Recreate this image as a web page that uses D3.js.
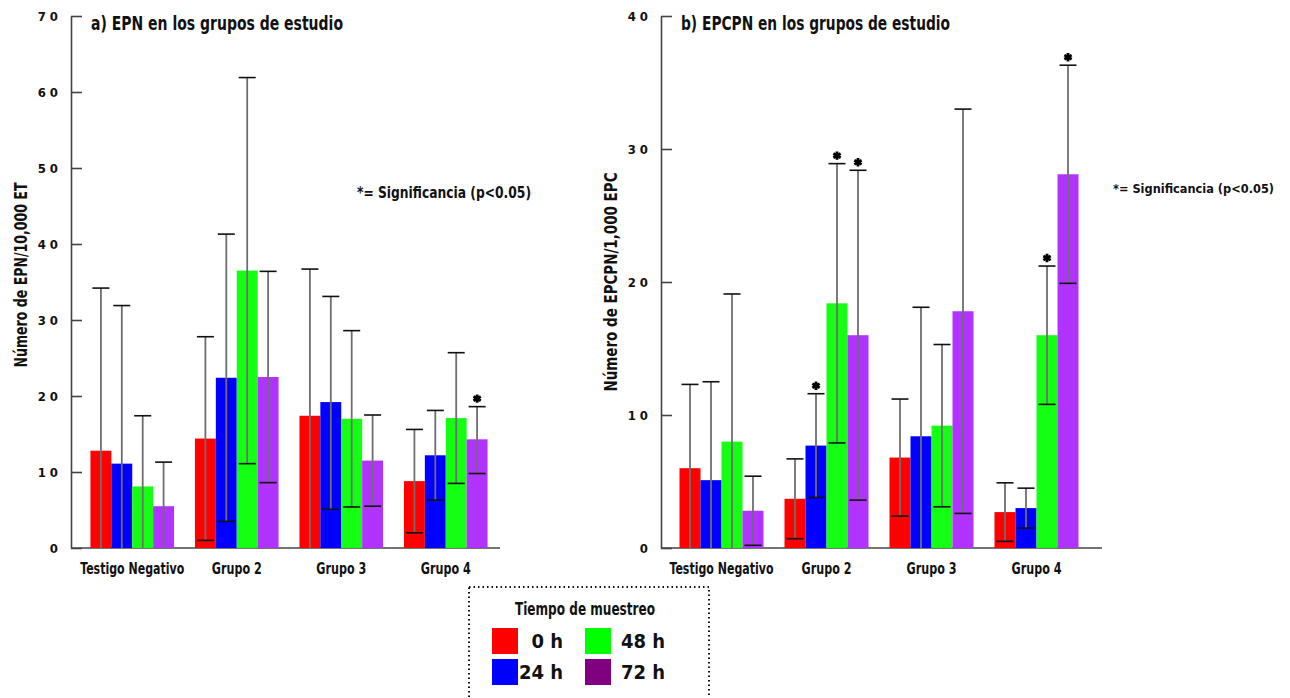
<!DOCTYPE html>
<html>
<head>
<meta charset="utf-8">
<script src="https://cdn.jsdelivr.net/npm/d3@7"></script>
<style>
  body { margin: 0; background: #fff; }
  text { font-family: "DejaVu Sans Condensed", "Liberation Sans Narrow", sans-serif; font-stretch: condensed; font-weight: bold; fill: #111; }
</style>
</head>
<body>
<div id="chart"></div>
<script>
// categories and series
var groups = ["Testigo Negativo", "Grupo 2", "Grupo 3", "Grupo 4"];
var series = ["0 h", "24 h", "48 h", "72 h"];
var barColors = ["#ff0000", "#0000ff", "#14ff14", "#b033ff"];
var legendColors = ["#ff0000", "#0000ff", "#00ff00", "#800080"];

// a) EPN / 10,000 ET  (rows = groups, cols = series)
var epnMean  = [[12.8, 11.1, 8.1, 5.5], [14.4, 22.4, 36.5, 22.5], [17.4, 19.2, 17.0, 11.5], [8.8, 12.2, 17.1, 14.3]];
var epnUpper = [[34.2, 31.9, 17.4, 11.3], [27.8, 41.3, 61.9, 36.4], [36.7, 33.1, 28.6, 17.5], [15.6, 18.1, 25.7, 18.6]];
var epnLower = [[0, 0, 0, 0], [1.0, 3.5, 11.1, 8.6], [0, 5.1, 5.4, 5.5], [2.0, 6.3, 8.5, 9.8]];
var epnSig   = [[0, 0, 0, 0], [0, 0, 0, 0], [0, 0, 0, 0], [0, 0, 0, 1]];

// b) EPCPN / 1,000 EPC
var epcMean  = [[6.0, 5.1, 8.0, 2.8], [3.7, 7.7, 18.4, 16.0], [6.8, 8.4, 9.2, 17.8], [2.7, 3.0, 16.0, 28.1]];
var epcUpper = [[12.3, 12.5, 19.1, 5.4], [6.7, 11.6, 28.9, 28.4], [11.2, 18.1, 15.3, 33.0], [4.9, 4.5, 21.2, 36.3]];
var epcLower = [[0, 0, 0, 0.2], [0.7, 3.8, 7.9, 3.6], [2.4, 0, 3.1, 2.6], [0.5, 1.5, 10.8, 19.9]];
var epcSig   = [[0, 0, 0, 0], [0, 1, 1, 1], [0, 0, 0, 0], [0, 0, 1, 1]];

var W = 1290, H = 698;
var svg = d3.select("#chart").append("svg").attr("width", W).attr("height", H);

// squeeze text to the width it has in the original (its font is narrow)
function fit(sel, len) {
  sel.attr("textLength", len).attr("lengthAdjust", "spacingAndGlyphs");
}

function panel(opt) {
  var y = d3.scaleLinear().domain([0, opt.max]).range([548, 16]);
  var x = d3.scaleBand().domain(groups).range(opt.xr).paddingInner(0.2).paddingOuter(0.1);
  var xs = d3.scaleBand().domain(series).range([0, x.bandwidth()]);

  var g = svg.append("g");

  // y axis, ticks pointing inward
  var ya = g.append("g")
    .attr("transform", "translate(" + opt.ax + ",0)")
    .call(d3.axisLeft(y).ticks(opt.max / 10).tickSize(-11).tickSizeOuter(0).tickPadding(13)
      .tickFormat(function(d) { return String(d).split("").join(" "); }));
  ya.selectAll("line, path").attr("stroke", "#444").attr("stroke-width", 1.6);
  ya.selectAll("text").attr("font-size", 13).attr("fill", "#111").attr("font-family", null);

  // x axis labels
  var xa = g.append("g")
    .attr("transform", "translate(0,548)")
    .call(d3.axisBottom(x).tickSize(0).tickPadding(15));
  xa.select(".domain").remove();
  xa.selectAll("text").attr("font-size", 15).attr("fill", "#111").attr("font-family", null)
    .attr("textLength", function(d) { return d.length > 8 ? 104 : 50; })
    .attr("lengthAdjust", "spacingAndGlyphs");
  g.append("line")
    .attr("x1", opt.ax).attr("x2", opt.xend)
    .attr("y1", y(0)).attr("y2", y(0))
    .attr("stroke", "#444").attr("stroke-width", 1.6);

  var rows = [];
  groups.forEach(function(gr, i) {
    series.forEach(function(s, j) {
      rows.push({ g: gr, s: s, j: j, v: opt.mean[i][j], hi: opt.upper[i][j], lo: opt.lower[i][j], sig: opt.sig[i][j] });
    });
  });

  g.selectAll("rect.bar").data(rows).enter().append("rect")
    .attr("class", "bar")
    .attr("x", function(d) { return x(d.g) + xs(d.s); })
    .attr("y", function(d) { return y(d.v); })
    .attr("width", xs.bandwidth())
    .attr("height", function(d) { return y(0) - y(d.v); })
    .attr("fill", function(d) { return barColors[d.j]; });

  var cx = function(d) { return x(d.g) + xs(d.s) + xs.bandwidth() / 2; };
  var capW = 8.5;

  g.selectAll("line.err").data(rows).enter().append("line")
    .attr("x1", cx).attr("x2", cx)
    .attr("y1", function(d) { return y(d.hi); })
    .attr("y2", function(d) { return y(d.lo); })
    .attr("stroke", "#6e6e6e").attr("stroke-width", 1.8);
  g.selectAll("line.top").data(rows).enter().append("line")
    .attr("x1", function(d) { return cx(d) - capW; }).attr("x2", function(d) { return cx(d) + capW; })
    .attr("y1", function(d) { return y(d.hi); }).attr("y2", function(d) { return y(d.hi); })
    .attr("stroke", "#111").attr("stroke-width", 1.6);
  g.selectAll("line.bot").data(rows.filter(function(d) { return d.lo > 0; })).enter().append("line")
    .attr("x1", function(d) { return cx(d) - capW; }).attr("x2", function(d) { return cx(d) + capW; })
    .attr("y1", function(d) { return y(d.lo); }).attr("y2", function(d) { return y(d.lo); })
    .attr("stroke", "#111").attr("stroke-width", 1.6);

  // significance asterisks
  g.selectAll("path.sig").data(rows.filter(function(d) { return d.sig; })).enter().append("path")
    .attr("d", d3.symbol(d3.symbolAsterisk, 50))
    .attr("transform", function(d) { return "translate(" + cx(d) + "," + (y(d.hi) - 8) + ")"; })
    .attr("stroke", "#000").attr("stroke-width", 2.8).attr("fill", "none");

  g.append("text").attr("x", opt.ax + 20).attr("y", 30).attr("font-size", 20).text(opt.title)
    .call(fit, opt.titleW);
  g.append("text").attr("x", opt.noteX).attr("y", opt.noteY).attr("font-size", opt.noteSize)
    .text("*= Significancia (p<0.05)")
    .call(fit, opt.noteW);
  g.append("text")
    .attr("transform", "translate(" + opt.labX + "," + opt.labY + ") rotate(-90)")
    .attr("text-anchor", "middle").attr("font-size", 17).text(opt.ylab)
    .call(fit, opt.labW);
}

panel({ max: 70, ax: 71, xr: [80, 498], xend: 500, mean: epnMean, upper: epnUpper, lower: epnLower, sig: epnSig,
  title: "a) EPN en los grupos de estudio", titleW: 252, ylab: "Número de EPN/10,000 ET", labW: 185, labX: 27, labY: 275,
  noteX: 357, noteY: 198, noteW: 174, noteSize: 15 });
panel({ max: 40, ax: 661, xr: [669, 1089], xend: 1102, mean: epcMean, upper: epcUpper, lower: epcLower, sig: epcSig,
  title: "b) EPCPN en los grupos de estudio", titleW: 269, ylab: "Número de EPCPN/1,000 EPC", labW: 219, labX: 617, labY: 282,
  noteX: 1113, noteY: 193, noteW: 161, noteSize: 12.5 });

// legend
var lg = svg.append("g");
lg.append("rect").attr("x", 469).attr("y", 587).attr("width", 240).attr("height", 130)
  .attr("fill", "none").attr("stroke", "#111").attr("stroke-width", 2).attr("stroke-dasharray", "1.5,3");
lg.append("text").attr("x", 515).attr("y", 615).attr("font-size", 18).text("Tiempo de muestreo").call(fit, 140);
var lx = [492, 585], ly = [628, 659], tx = [563, 665];
series.forEach(function(s, j) {
  var col = j === 0 || j === 1 ? 0 : 1;
  var row = j % 2;
  lg.append("rect").attr("x", lx[col]).attr("y", ly[row]).attr("width", 26).attr("height", 26).attr("fill", legendColors[j]);
  lg.append("text").attr("x", tx[col]).attr("y", ly[row] + 20).attr("text-anchor", "end").attr("font-size", 20).text(s);
});
</script>
</body>
</html>
